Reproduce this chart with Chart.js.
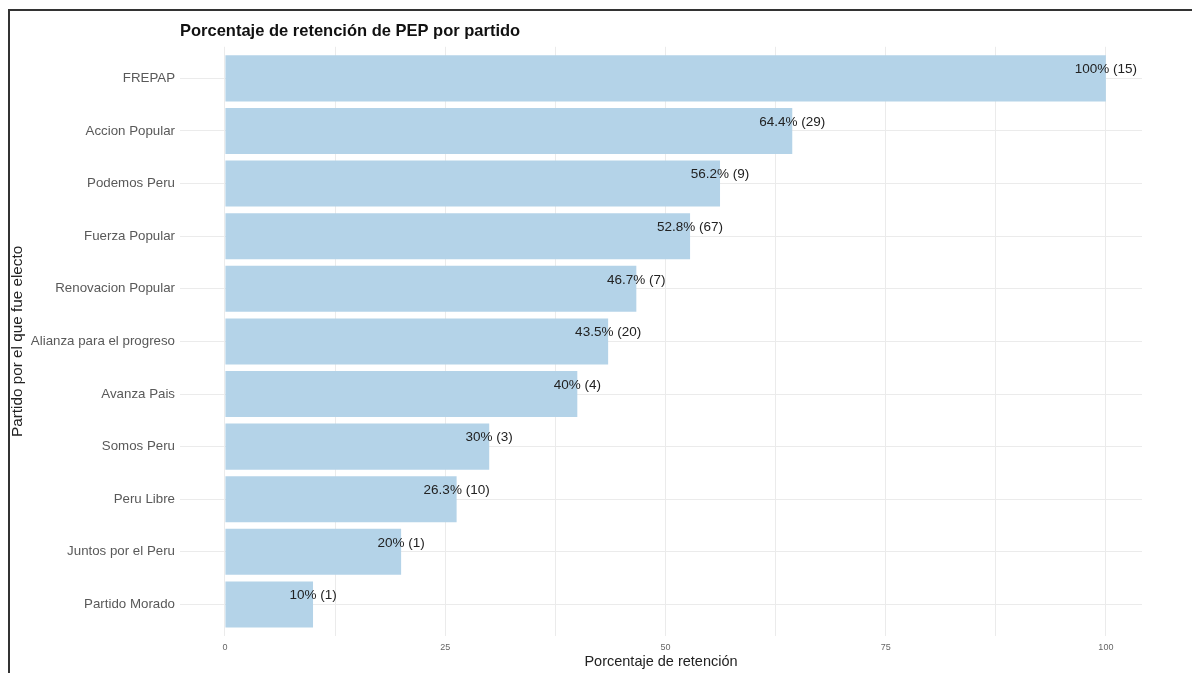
<!DOCTYPE html>
<html lang="es">
<head>
<meta charset="utf-8">
<title>Porcentaje de retención de PEP por partido</title>
<script src="https://cdn.jsdelivr.net/npm/chart.js"></script>
<style>
  html,body{margin:0;padding:0;background:#fff;overflow:hidden;}
  #wrap{position:relative;width:1192px;height:673px;}
  #frame{position:absolute;left:8px;top:9px;width:1400px;height:900px;
         border:2px solid #333;box-sizing:border-box;pointer-events:none;}
  canvas{position:absolute;left:0;top:0;}
</style>
</head>
<body>
<div id="wrap">
  <canvas id="myChart" width="1192" height="673"></canvas>
  <div id="frame"></div>
</div>

<script>
/* ── data ───────────────────────────────────────── */
const partidos = ['FREPAP','Accion Popular','Podemos Peru','Fuerza Popular',
  'Renovacion Popular','Alianza para el progreso','Avanza Pais','Somos Peru',
  'Peru Libre','Juntos por el Peru','Partido Morado'];
const porcentaje = [100, 64.4, 56.2, 52.8, 46.7, 43.5, 40, 30, 26.3, 20, 10];
const cantidad   = [15, 29, 9, 67, 7, 20, 4, 3, 10, 1, 1];
const xTicks      = [0, 25, 50, 75, 100];          // labelled
const xMinorTicks = [12.5, 37.5, 62.5, 87.5];      // gridline only

const FONT = '"Liberation Sans", Arial, Helvetica, sans-serif';

/* ── value labels at bar ends ───────────────────── */
const barLabels = {
  id:'barLabels',
  afterDatasetsDraw(chart){
    const ctx = chart.ctx;
    const meta = chart.getDatasetMeta(0);
    ctx.save();
    ctx.font = '13.5px ' + FONT;
    ctx.fillStyle = '#222';
    ctx.textAlign = 'center';
    ctx.textBaseline = 'middle';
    meta.data.forEach((el,i)=>{
      ctx.fillText(porcentaje[i] + '% (' + cantidad[i] + ')', el.x, el.y - 9);
    });
    ctx.restore();
  }
};

/* ── chart ──────────────────────────────────────── */
new Chart(document.getElementById('myChart'), {
  type:'bar',
  data:{
    datasets:[{
      data: porcentaje.map((v,i)=>({x:v, y:i})),
      backgroundColor:'#b4d3e8',
      borderWidth:0,
      barPercentage:0.875,
      categoryPercentage:1
    }]
  },
  options:{
    indexAxis:'y',
    responsive:false,
    animation:false,
    layout:{padding:{top:12, right:50, bottom:0, left:0}},
    plugins:{
      legend:{display:false},
      tooltip:{enabled:false},
      title:{
        display:true,
        text:'Porcentaje de retención de PEP por partido',
        align:'start',
        fullSize:false,
        color:'#111',
        font:{family:FONT, size:16.5, weight:'bold'},
        padding:{top:10, bottom:5}
      }
    },
    scales:{
      x:{
        type:'linear',
        min:-5.1, max:104.1,
        afterBuildTicks: s => {
          s.ticks = [...xTicks, ...xMinorTicks].sort((a,b)=>a-b).map(v=>({value:v}));
        },
        afterFit: s => { s.height = 37; },
        grid:{color:'#ebebeb', lineWidth:1, drawTicks:false},
        border:{display:false},
        ticks:{
          padding:6,
          color:'#666',
          font:{family:FONT, size:9},
          callback: v => xTicks.includes(v) ? String(v) : ''
        },
        title:{
          display:true,
          text:'Porcentaje de retención',
          color:'#222',
          font:{family:FONT, size:14.5},
          padding:{top:0, bottom:2}
        }
      },
      y:{
        type:'linear',
        reverse:true,
        offset:false,
        min:-0.6, max:10.6,
        afterBuildTicks: s => { s.ticks = partidos.map((p,i)=>({value:i})); },
        afterFit: s => { s.width = 180; },
        grid:{color:'#ebebeb', lineWidth:1, drawTicks:false, offset:false},
        border:{display:false},
        ticks:{
          padding:5,
          color:'#595959',
          font:{family:FONT, size:13.3},
          callback: v => partidos[v] ?? ''
        },
        title:{
          display:true,
          text:'Partido por el que fue electo',
          color:'#222',
          font:{family:FONT, size:15.3},
          padding:{top:9, bottom:0}
        }
      }
    }
  },
  plugins:[barLabels]
});
</script>
</body>
</html>
